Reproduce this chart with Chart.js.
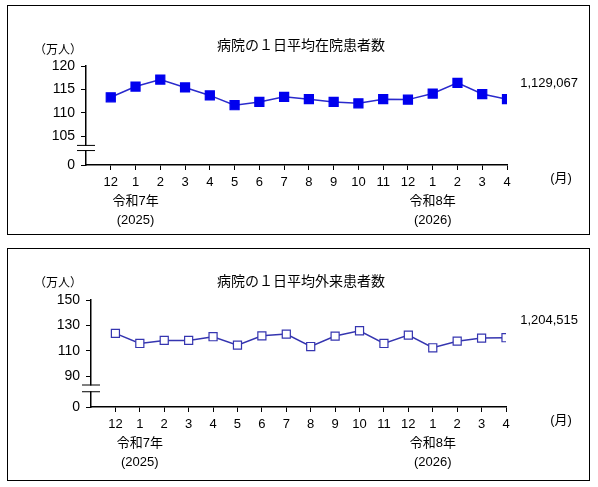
<!DOCTYPE html>
<html><head><meta charset="utf-8">
<script src="https://cdn.jsdelivr.net/npm/chart.js@4"></script>
<style>
body{margin:0;background:#fff;width:598px;height:487px;position:relative}
.box{position:absolute;left:7px;width:581px;border:1px solid #000}
</style></head><body>
<div class="box" style="top:5px;height:228px"><canvas id="c1" width="581" height="228"></canvas></div>
<div class="box" style="top:248px;height:231px"><canvas id="c2" width="581" height="231"></canvas></div>
<script>
const months = ['12','1','2','3','4','5','6','7','8','9','10','11','12','1','2','3','4'];
const eraLabels = {1: ['令和7年', '(2025)'], 13: ['令和8年', '(2026)']};
const inpatient = [113.3,115.6,117.1,115.4,113.7,111.6,112.3,113.4,112.9,112.3,112.0,112.9,112.8,114.1,116.4,114.0,112.9];
const outpatient = [123.7,115.8,118.2,118.2,121.1,114.5,121.8,123.2,113.4,121.6,125.8,115.8,122.4,112.4,117.6,120.0,120.3];
const inTicks = [105,110,115,120];
const outTicks = [90,110,130,150];

const FONT = '"Liberation Sans","Noto Sans CJK JP",sans-serif';
Chart.defaults.font.family = FONT;
Chart.defaults.color = '#000';

function makeChart(id, opt) {
  const extras = {
    id: 'extras',
    afterDraw(chart) {
      const c = chart.ctx, y = chart.scales.y, x = chart.scales.x;
      // axis break
      const y1 = y.getPixelForValue(opt.breakHi), y2 = y.getPixelForValue(opt.breakLo);
      c.save();
      c.fillStyle = '#fff';
      c.fillRect(x.left - 2, y1 + 1, 4, y2 - y1 - 1);
      c.strokeStyle = '#000'; c.lineWidth = 1;
      c.beginPath();
      c.moveTo(x.left - 9, y1 + 0.5); c.lineTo(x.left + 9, y1 + 0.5);
      c.moveTo(x.left - 9, y2 + 0.5); c.lineTo(x.left + 9, y2 + 0.5);
      c.stroke();
      c.fillStyle = '#000';
      c.font = '14px ' + FONT; c.textAlign = 'center'; c.textBaseline = 'middle';
      c.fillText(opt.title, 293, opt.titleY);
      c.font = '12px ' + FONT;
      c.fillText('（万人）', 50, opt.unitY);
      c.font = '13px ' + FONT;
      c.fillText('(月)', 553, y.bottom + 13);
      c.textAlign = 'right';
      c.fillText(opt.lastLabel, 570, opt.lastY);
      c.restore();
    }
  };
  return new Chart(document.getElementById(id), {
    type: 'line',
    data: {
      datasets: [{
        data: opt.values.map((v, i) => ({x: i, y: v})),
        borderColor: opt.lineColor, borderWidth: 1.5,
        pointStyle: 'rect', pointRadius: opt.pointRadius,
        pointBackgroundColor: opt.fill, pointBorderColor: opt.pointBorder, pointBorderWidth: 1.2,
        tension: 0
      }]
    },
    options: {
      responsive: false, animation: false,
      layout: {padding: {left: 0, right: opt.padRight, top: opt.padTop, bottom: 0}},
      plugins: {legend: {display: false}, tooltip: {enabled: false}},
      scales: {
        x: {
          type: 'linear', min: -1, max: 16,
          afterBuildTicks: s => { s.ticks = months.map((m, i) => ({value: i})); },
          afterFit: s => { s.height = opt.xHeight; },
          ticks: {
            font: {size: 13, lineHeight: 1.45}, maxRotation: 0, autoSkip: false, padding: 3,
            callback: v => eraLabels[v] ? [months[v], ...eraLabels[v]] : months[v]
          },
          grid: {drawOnChartArea: false, tickLength: 5, color: '#000'},
          border: {color: '#000', width: 1.5}
        },
        y: {
          min: opt.min, max: opt.max,
          afterBuildTicks: s => { s.ticks = [opt.min, ...opt.ticks].map(v => ({value: v})); },
          afterFit: s => { s.width = opt.yWidth; },
          ticks: {font: {size: 14}, padding: 6, callback: v => v === opt.min ? '0' : v},
          grid: {drawOnChartArea: false, tickLength: 5, color: '#000'},
          border: {color: '#000', width: 1.5}
        }
      }
    },
    plugins: [extras]
  });
}

makeChart('c1', {
  values: inpatient, ticks: inTicks, min: 98.8, max: 120,
  breakHi: 103.1, breakLo: 102.0,
  padRight: 82, padTop: 60, xHeight: 69, yWidth: 78,
  lineColor: '#2a2acc', fill: '#0000ee', pointBorder: '#0000ee', pointRadius: 6.4,
  title: '病院の１日平均在院患者数', titleY: 40, unitY: 45,
  lastLabel: '1,129,067', lastY: 77
});
makeChart('c2', {
  values: outpatient, ticks: outTicks, min: 65.8, max: 150,
  breakHi: 83.5, breakLo: 78.2,
  padRight: 83, padTop: 51, xHeight: 73, yWidth: 83,
  lineColor: '#3535b0', fill: '#fff', pointBorder: '#3535b0', pointRadius: 5.7,
  title: '病院の１日平均外来患者数', titleY: 33, unitY: 35,
  lastLabel: '1,204,515', lastY: 71
});
</script>
</body></html>
